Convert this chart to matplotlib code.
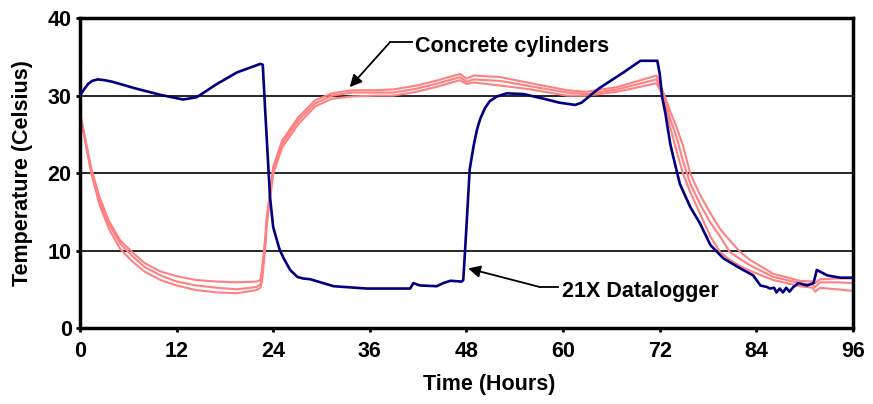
import matplotlib
matplotlib.use('Agg')
import matplotlib.pyplot as plt

plt.rcParams['font.family'] = ['Liberation Sans', 'DejaVu Sans']
plt.rcParams['font.weight'] = 'bold'

# 21X datalogger (air temperature)
logger_t = [0, 0.5, 1.0, 1.5, 2.2, 3.0, 4, 7, 10, 12.8, 14.5, 17, 19.5,
            22.4, 22.7, 23.0, 23.6, 24.0, 24.8, 25.3, 26.1, 27.0, 27.7,
            28.6, 31.5, 35.6, 41.0, 41.4, 42.2, 44.3, 45.1, 46.0, 47.4,
            47.6, 47.8, 48.1, 48.4, 48.9, 49.3, 49.7, 50.3, 50.9, 51.8,
            53.0, 55.1, 57.6, 59.5, 61.5, 62.3, 64.4, 67.5, 69.6, 71.7,
            72.0, 72.3, 72.7, 73.3, 73.7, 74.5, 75.8, 77.0, 78.3, 79.9,
            82.0, 83.6, 84.5, 85.3, 85.7, 86.2, 86.5, 86.9, 87.3, 87.7,
            88.1, 88.6, 89.2, 90.3, 91.1, 91.5, 92.8, 94.4, 96]
logger_temp = [30.0, 30.8, 31.5, 31.9, 32.1, 32.0, 31.8, 30.9, 30.1, 29.5, 29.8, 31.5, 33.0,
               34.1, 34.0, 28.1, 16.9, 13.0, 10.1, 9.0, 7.5, 6.6, 6.4,
               6.3, 5.4, 5.1, 5.1, 5.8, 5.5, 5.4, 5.8, 6.1, 6.0,
               6.2, 9.6, 15.0, 20.5, 23.6, 25.6, 27.0, 28.4, 29.3, 29.9,
               30.3, 30.2, 29.6, 29.1, 28.8, 29.1, 30.9, 33.0, 34.5, 34.5,
               32.8, 29.8, 27.7, 23.8, 22.0, 18.6, 15.6, 13.5, 10.7, 9.0,
               7.7, 6.8, 5.5, 5.3, 5.1, 5.2, 4.6, 5.1, 4.6, 5.2,
               4.7, 5.3, 5.8, 5.5, 5.8, 7.5, 6.8, 6.5, 6.5]

# concrete cylinders
cyl_t = [0, 0.7, 1.4, 2.4, 3.6, 5.0, 6.5, 8.0, 10.0, 12.0,
         14.4, 17.0, 19.5, 21.9, 22.4, 22.6, 23.0, 23.2, 24.0, 25.1,
         27.1, 29.2, 31.3, 33.8, 36.6, 38.9, 41.8, 44.5, 47.2, 48.0,
         48.9, 52.2, 56.0, 60.5, 62.9, 66.7, 71.6, 72.3, 73.3, 74.1,
         74.9, 75.8, 77.0, 78.3, 79.5, 80.7, 82.0, 83.2, 86.1, 89.4,
         91.0, 91.3, 91.9, 94.0, 96]
cyl_a = [27.8, 24.2, 20.6, 17.0, 13.8, 11.3, 9.8, 8.4, 7.3, 6.7,
         6.2, 6.0, 5.9, 6.0, 6.2, 7.5, 11.5, 14.3, 20.8, 24.2,
         27.2, 29.4, 30.3, 30.7, 30.7, 30.8, 31.3, 32.0, 32.8, 32.2,
         32.6, 32.4, 31.6, 30.7, 30.5, 31.1, 32.6, 30.8, 28.0, 25.9,
         23.5, 19.9, 17.2, 14.8, 12.8, 11.3, 9.8, 8.8, 7.0, 6.1,
         6.0, 5.8, 6.3, 6.4, 6.4]
cyl_b = [27.8, 24.0, 20.3, 16.6, 13.4, 10.9, 9.3, 7.9, 6.8, 6.0,
         5.5, 5.2, 5.0, 5.3, 5.6, 6.5, 10.9, 13.9, 20.4, 23.8,
         26.8, 29.0, 30.0, 30.4, 30.4, 30.4, 30.9, 31.6, 32.4, 31.8,
         32.1, 31.9, 31.2, 30.4, 30.2, 30.8, 32.1, 30.5, 27.0, 24.6,
         21.5, 18.6, 16.0, 13.6, 11.8, 9.8, 8.9, 8.1, 6.6, 5.8,
         5.6, 5.3, 5.9, 5.9, 5.8]
cyl_c = [27.8, 23.8, 20.0, 16.0, 12.8, 10.2, 8.6, 7.3, 6.2, 5.5,
         4.9, 4.6, 4.5, 4.9, 5.2, 6.0, 10.3, 13.4, 19.9, 23.3,
         26.3, 28.6, 29.6, 29.9, 30.0, 30.0, 30.5, 31.2, 32.0, 31.5,
         31.7, 31.3, 30.8, 30.0, 30.0, 30.5, 31.6, 30.2, 25.9, 22.8,
         19.9, 17.5, 14.8, 11.8, 9.8, 8.8, 8.0, 7.4, 6.2, 5.4,
         5.2, 4.7, 5.2, 5.0, 4.8]

x_ticks = [0, 12, 24, 36, 48, 60, 72, 84, 96]
y_ticks = [0, 10, 20, 30, 40]

fig = plt.figure(figsize=(8.73, 4.04), dpi=100)
ax = fig.add_axes([0.0916, 0.188, 0.8855, 0.767])

for yg in [10, 20, 30]:
    ax.axhline(yg, color='black', lw=1.2, zorder=1)

for vals in (cyl_a, cyl_b, cyl_c):
    ax.plot(cyl_t, vals, color='#ff8080', lw=1.5, zorder=2)
ax.plot(logger_t, logger_temp, color='#000080', lw=1.9, zorder=3)

ax.set_xlim(0, 96)
ax.set_ylim(0, 40)
ax.set_xticks(x_ticks)
ax.set_yticks(y_ticks)
ax.tick_params(direction='out', length=3, width=2, labelsize=15.5)
ax.tick_params(axis='x', pad=6)
ax.tick_params(axis='y', pad=3)
for s in ax.spines.values():
    s.set_linewidth(2.5)
    s.set_color('black')

ax.set_xlabel('Time (Hours)', fontsize=15.5, fontweight='bold')
ax.xaxis.set_label_coords(0.53, -0.148)
ax.set_ylabel('Temperature (Celsius)', fontsize=15.5, fontweight='bold')
ax.yaxis.set_label_coords(-0.061, 0.5)

# annotations
ax.plot([38.5, 41.2], [36.9, 36.9], color='black', lw=1.3, clip_on=False)
ax.annotate('', xy=(33.5, 31.1), xytext=(38.5, 36.9),
            arrowprops=dict(arrowstyle='-|>', color='black', lw=1.3,
                            mutation_scale=18, shrinkA=0, shrinkB=0))
ax.text(41.6, 36.3, 'Concrete cylinders', fontsize=15.5, fontweight='bold',
        va='center', ha='left')

ax.plot([57.1, 59.4], [5.3, 5.3], color='black', lw=1.3)
ax.annotate('', xy=(48.2, 7.7), xytext=(57.1, 5.3),
            arrowprops=dict(arrowstyle='-|>', color='black', lw=1.3,
                            mutation_scale=18, shrinkA=0, shrinkB=0))
ax.text(59.8, 4.7, '21X Datalogger', fontsize=15.5, fontweight='bold',
        va='center', ha='left')

fig.savefig('out.png', dpi=100)
